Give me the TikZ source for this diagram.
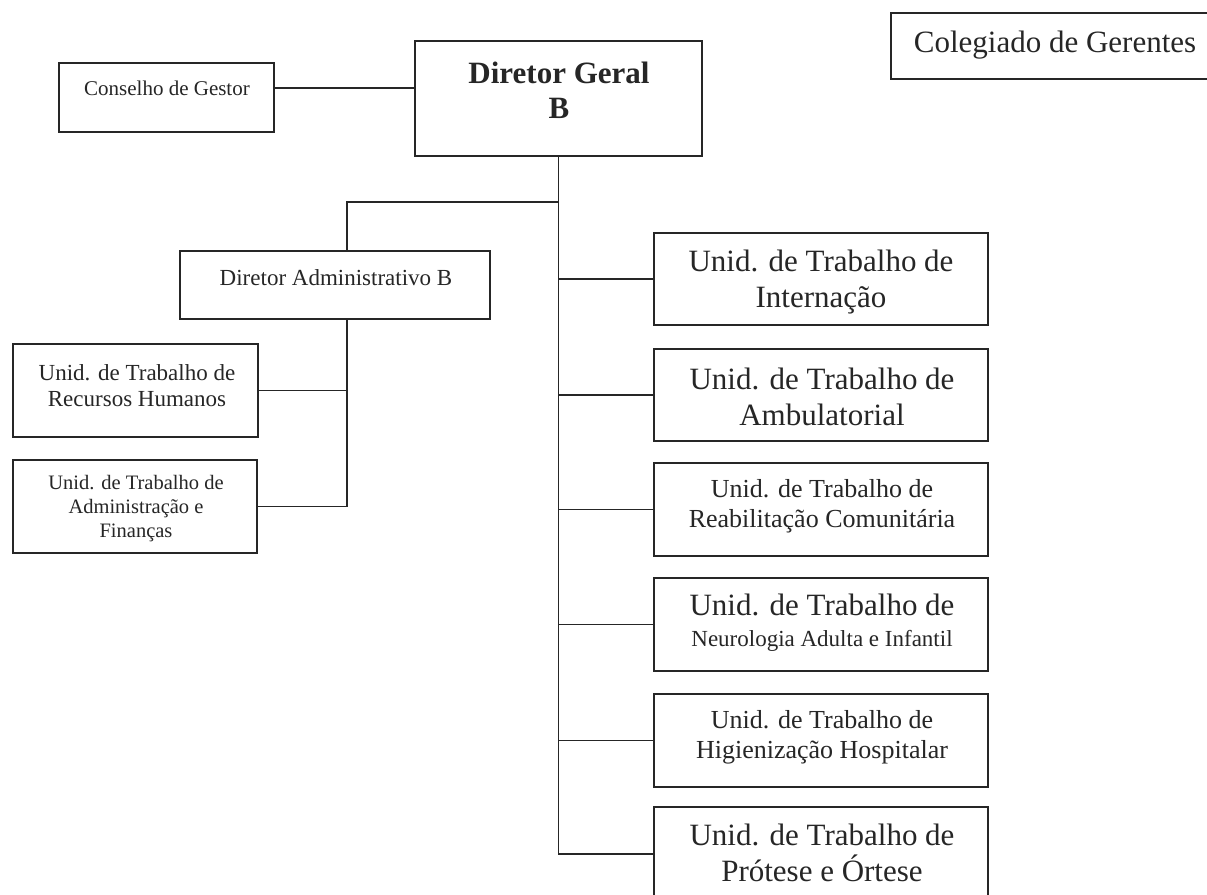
\documentclass[tikz,border=0pt]{standalone}
\usepackage{fontspec}
\setmainfont{Liberation Serif}
\begin{document}
\begin{tikzpicture}[x=1pt,y=-1pt,
  unitbox/.style={draw=black!85,line width=1.7pt,inner sep=0pt,rectangle},
  conn/.style={draw=black!85,line width=1.5pt},
  txt/.style={inner sep=0pt,align=center,text=black!85},
  big/.style={txt,font=\fontsize{31}{36}\selectfont},
  mid/.style={txt,font=\fontsize{26}{30}\selectfont},
  small/.style={txt,font=\fontsize{23}{26}\selectfont}]
\useasboundingbox (0,0) rectangle (1207,894);
\clip (0,0) rectangle (1207,894);
\fill[white] (0,0) rectangle (1207,894);

% top level
\node[unitbox,minimum width=287pt,minimum height=115pt] (geral) at (558.5,98.5) {};
\node[txt,font=\fontsize{31}{35}\selectfont\bfseries] (geralT) at (559,90) {Diretor Geral\\B};

\node[unitbox,minimum width=215pt,minimum height=69pt] (cons) at (166.5,97.5) {};
\node[txt,font=\fontsize{21}{24}\selectfont] (consT) at (167,88) {Conselho de Gestor};

\node[unitbox,minimum width=330pt,minimum height=66pt] (coleg) at (1056,46) {};
\node[big] (colegT) at (1055,45) {Colegiado de Gerentes};

% administrative branch
\node[unitbox,minimum width=310pt,minimum height=68pt] (admin) at (335,285) {};
\node[small] (adminT) at (336,278) {Diretor Administrativo B};

\node[unitbox,minimum width=245pt,minimum height=93pt] (rh) at (135.5,390.5) {};
\node[small] (rhT) at (137,386) {Unid. de Trabalho de\\Recursos Humanos};

\node[unitbox,minimum width=244pt,minimum height=93pt] (af) at (135,506.5) {};
\node[txt,font=\fontsize{20.5}{24}\selectfont] (afT) at (136,509) {Unid. de Trabalho de\\Administração e\\Finanças};

% work units
\node[unitbox,minimum width=334pt,minimum height=92pt] (intern) at (821,279) {};
\node[big] (internT) at (821,282) {Unid. de Trabalho de\\Internação};

\node[unitbox,minimum width=334pt,minimum height=92pt] (ambul) at (821,395) {};
\node[big] (ambulT) at (822,397) {Unid. de Trabalho de\\Ambulatorial};

\node[unitbox,minimum width=334pt,minimum height=93pt] (reab) at (821,509.5) {};
\node[mid] (reabT) at (822,506) {Unid. de Trabalho de\\Reabilitação Comunitária};

\node[unitbox,minimum width=334pt,minimum height=93pt] (neuro) at (821,624.5) {};
\node[txt,font=\fontsize{31}{34}\selectfont] (neuroT) at (822,623)
  {Unid. de Trabalho de\\[-3pt]{\fontsize{23}{26}\selectfont Neurologia Adulta e Infantil}};

\node[unitbox,minimum width=334pt,minimum height=93pt] (higien) at (821,740.5) {};
\node[mid] (higienT) at (822,737) {Unid. de Trabalho de\\Higienização Hospitalar};

\node[unitbox,minimum width=334pt,minimum height=94pt] (protese) at (821,854) {};
\node[big] (proteseT) at (822,853) {Unid. de Trabalho de\\Prótese e Órtese};

% junction points of the tree
\coordinate (fork) at (559,202);
\coordinate (admx) at (347,0);

% connectors
\draw[conn] (cons.east |- consT) -- (geral.west |- consT);
\draw[conn] (geral.south) -- (geral.south |- protese.west) -- (protese.west);
\draw[conn] (fork) -- (fork -| admx) -- (admin.north -| admx);
\draw[conn] (admin.south -| admx) -- (af.east -| admx) -- (af.east);
\draw[conn] (rh.east) -- (rh.east -| admx);
\foreach \u in {intern,ambul,reab,neuro,higien}
  \draw[conn] (geral.south |- \u.west) -- (\u.west);
\end{tikzpicture}
\end{document}
